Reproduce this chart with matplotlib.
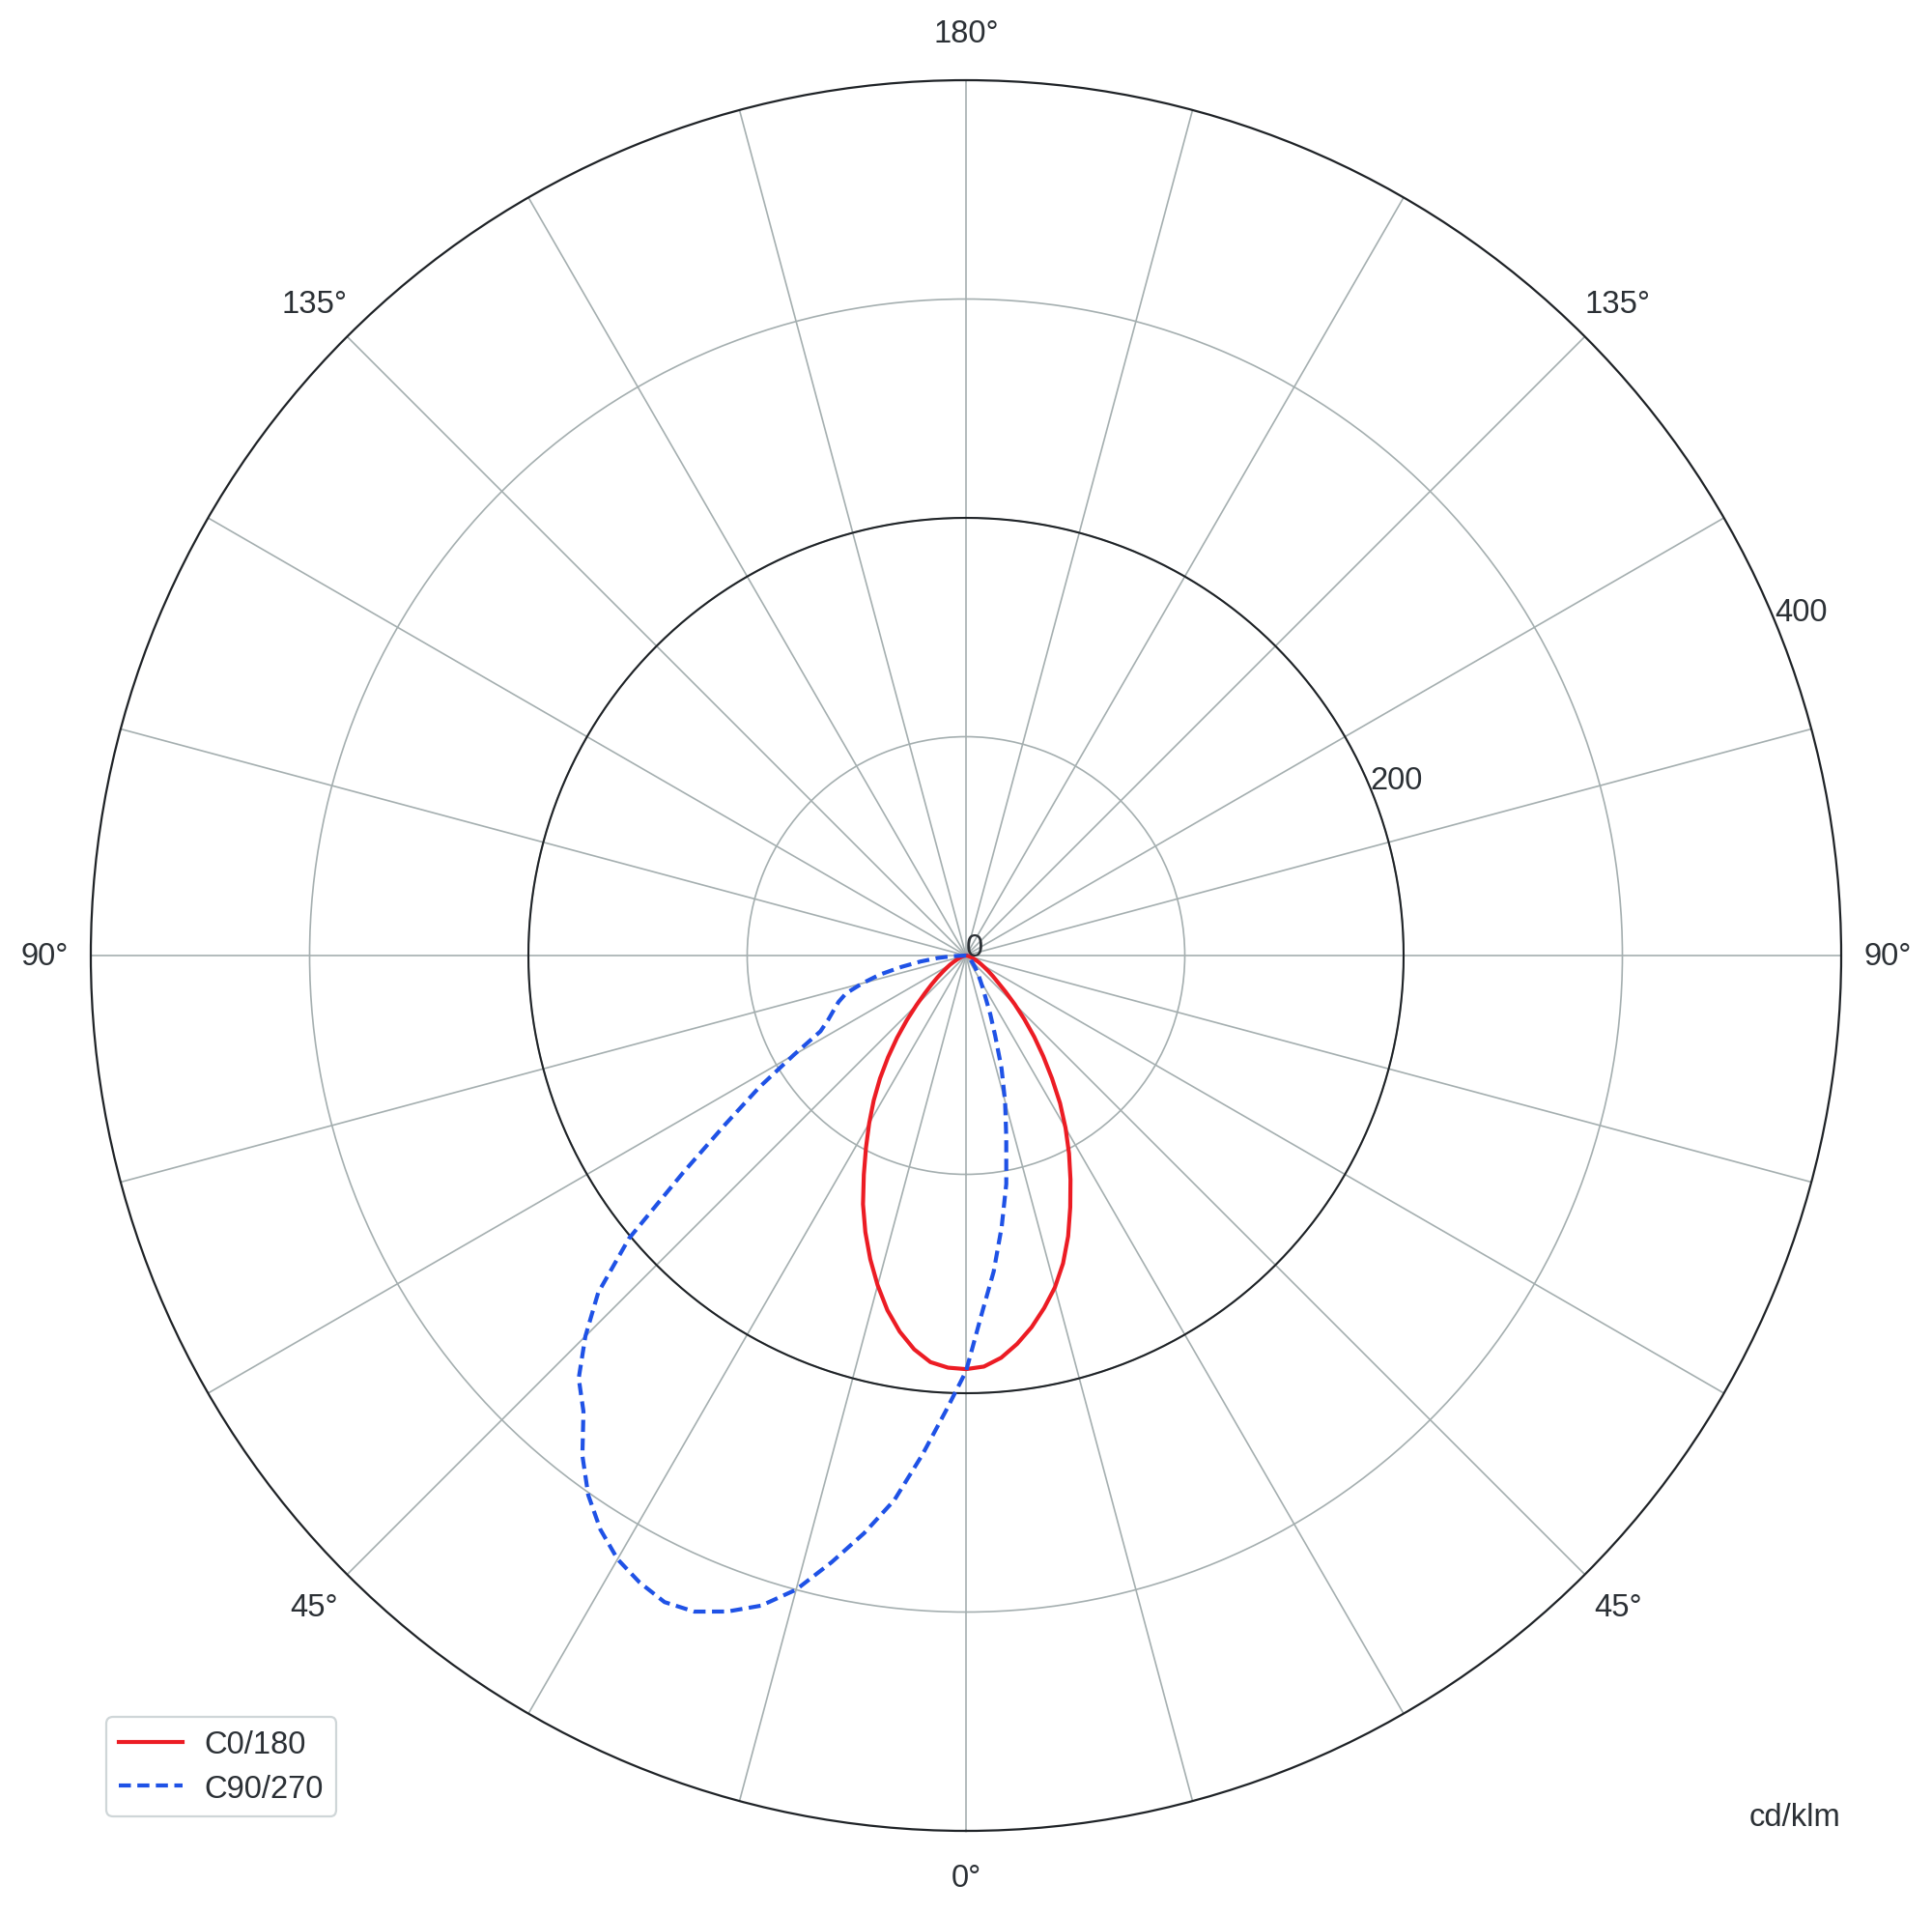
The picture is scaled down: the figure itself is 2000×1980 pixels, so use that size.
import numpy as np
import matplotlib
matplotlib.use("Agg")
import matplotlib.pyplot as plt

plt.rcParams["font.family"] = ["Liberation Sans", "DejaVu Sans"]

# gamma angles (deg from nadir); values in cd/klm
GAMMA = [0, 2.5, 5, 7.5, 10, 12.5, 15, 17.5, 20, 22.5, 25, 27.5, 30, 32.5, 35, 37.5,
         40, 42.5, 45, 47.5, 50, 52.5, 55, 57.5, 60, 62.5, 65, 67.5, 70, 72.5, 75,
         77.5, 80, 82.5, 85, 87.5, 90]

# C0 (right half) / C180 (left half)
C0 = [189, 188, 184.5, 179, 172.5, 165, 157, 147.5, 136.5, 124.5, 113, 102, 91, 80,
      68.5, 58, 48.5, 39.5, 31.5, 24.5, 19, 15.5, 12.5, 10, 8, 6.5, 5, 4, 3, 2.3,
      1.6, 1.1, 0.8, 0.5, 0.3, 0.1, 0]
C180 = [189, 188.5, 186.5, 181.5, 174.5, 166, 156, 145.5, 134.5, 123, 110.5, 99,
        88.5, 78.5, 68.5, 58.5, 49, 40, 32, 25.5, 20.5, 16.5, 13, 10.5, 8.5, 6.5, 5,
        4, 3, 2.3, 1.6, 1.1, 0.8, 0.5, 0.3, 0.1, 0]

# C90 (right half) / C270 (left half)
C90 = [190, 164, 145, 125, 106, 85, 69, 54, 39, 29, 21, 16.5, 13, 10.5, 8.5, 7, 5.5,
       4.5, 3.5, 3, 2.5, 2, 1.6, 1.3, 1, 0.8, 0.6, 0.5, 0.4, 0.3, 0.2, 0.2, 0.1, 0.1,
       0.1, 0, 0]
C270 = [190, 208, 229, 251, 268, 284, 300, 311.5, 319, 324.5, 326, 323, 318.5, 311,
        301, 288, 272, 262, 246, 228, 201, 163, 134, 112, 91, 75, 69.5, 65.5, 62,
        57.5, 49, 40.5, 30, 21, 13, 6, 0]

ANGLE_LABELS = {0: "0°", 45: "45°", 90: "90°", 135: "135°", 180: "180°",
                225: "135°", 270: "90°", 315: "45°"}
R_LABELS = [0, 200, 400]
R_MAX = 400

TEXT = "#2b3035"
GRID = "#a5afb0"
DARK = "#1f2327"
RED = "#ec1c24"
BLUE = "#1f52e6"
FS = 11.8


def both_sides(right, left):
    g = np.radians(GAMMA)
    theta = np.concatenate([-g[::-1], g[1:]])
    r = np.concatenate([np.asarray(left)[::-1], np.asarray(right)[1:]])
    return theta, r


fig = plt.figure(figsize=(10, 9.905), dpi=200)
ax = fig.add_axes([0.047, 0.0429, 0.906, 0.9147], projection="polar")
ax.set_theta_zero_location("S")
ax.set_theta_direction(1)
ax.set_ylim(0, R_MAX)

ax.set_thetagrids(np.arange(0, 360, 15), labels=[""] * 24)
ax.set_rgrids([100, 200, 300], labels=["", "", ""])
ax.grid(True, color=GRID, lw=0.6)
ax.tick_params(length=0)
ax.spines["polar"].set_color(DARK)
ax.spines["polar"].set_linewidth(0.8)

ring = np.linspace(0, 2 * np.pi, 721)
ax.plot(ring, np.full_like(ring, 200), color=DARK, lw=0.75, zorder=2)

th, r = both_sides(C0, C180)
ax.plot(th, r, color=RED, lw=1.5, label="C0/180", zorder=4,
        solid_joinstyle="round")
th, r = both_sides(C90, C270)
ax.plot(th, r, color=BLUE, lw=1.5, ls=(0, (3, 1.6)), label="C90/270", zorder=5,
        dash_joinstyle="round")

for deg, txt in ANGLE_LABELS.items():
    ax.text(np.radians(deg), R_MAX * 1.053, txt, ha="center", va="center",
            fontsize=FS, color=TEXT, clip_on=False)
for v in R_LABELS:
    ax.text(np.radians(112.5), v, str(v), ha="left", va="baseline",
            fontsize=FS, color=TEXT, zorder=6)

leg = fig.legend(loc="lower left", bbox_to_anchor=(0.055, 0.0505), fontsize=FS,
                 frameon=True, fancybox=True, framealpha=1, edgecolor="#cfd6d8",
                 handlelength=2.0, handletextpad=0.7, borderpad=0.4,
                 labelspacing=0.45, borderaxespad=0)
leg.get_frame().set_linewidth(0.8)
for t in leg.get_texts():
    t.set_color(TEXT)

fig.text(1905 / 2000, 1 - 1882 / 1981, "cd/klm", ha="right", va="center",
         fontsize=FS, color=TEXT)

fig.savefig("out.png", dpi=200)
